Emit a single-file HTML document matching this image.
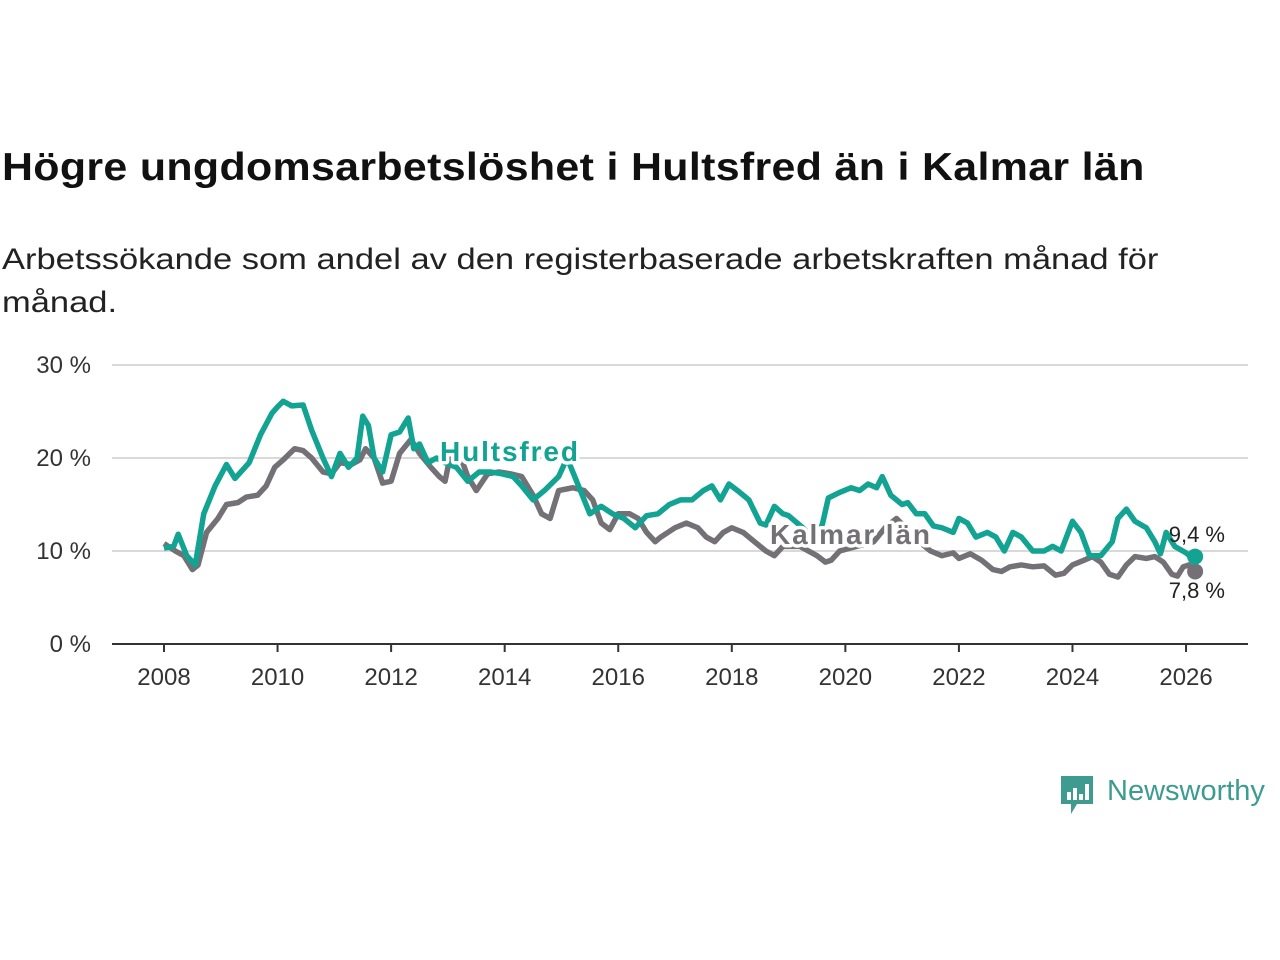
<!DOCTYPE html>
<html><head><meta charset="utf-8">
<style>
body{margin:0;width:1280px;height:960px;background:#fff;overflow:hidden;font-family:"Liberation Sans",sans-serif;}
#title{position:absolute;left:2px;top:146px;font-size:39px;font-weight:bold;color:#111;letter-spacing:0.3px;margin:0;transform-origin:0 0;transform:scaleX(1.1);white-space:nowrap;}
#sub{position:absolute;left:2px;top:238px;font-size:30px;line-height:43px;color:#222;width:1200px;margin:0;transform-origin:0 0;transform:scaleX(1.15);white-space:nowrap;}
svg{position:absolute;left:0;top:0;}
</style></head>
<body>
<h1 id="title">Högre ungdomsarbetslöshet i Hultsfred än i Kalmar län</h1>
<p id="sub">Arbetssökande som andel av den registerbaserade arbetskraften månad för<br>månad.</p>
<svg id="chart" width="1280" height="960"></svg>
<script>
const yTicks=[0,10,20,30];
const xTicks=[2008,2010,2012,2014,2016,2018,2020,2022,2024,2026];
const hDates=[2008.0,2008.17,2008.25,2008.4,2008.55,2008.7,2008.9,2009.1,2009.25,2009.5,2009.7,2009.9,2010.0,2010.1,2010.25,2010.45,2010.6,2010.8,2010.95,2011.1,2011.25,2011.4,2011.5,2011.6,2011.7,2011.85,2012.0,2012.15,2012.3,2012.4,2012.5,2012.65,2012.8,2012.95,2013.15,2013.35,2013.55,2013.75,2013.95,2014.15,2014.3,2014.5,2014.7,2014.95,2015.1,2015.3,2015.5,2015.7,2015.9,2016.1,2016.3,2016.5,2016.7,2016.9,2017.1,2017.3,2017.5,2017.65,2017.8,2017.95,2018.1,2018.3,2018.5,2018.6,2018.75,2018.9,2019.0,2019.25,2019.5,2019.6,2019.7,2019.9,2020.1,2020.25,2020.4,2020.55,2020.65,2020.8,2021.0,2021.1,2021.25,2021.4,2021.55,2021.7,2021.9,2022.0,2022.15,2022.3,2022.5,2022.65,2022.8,2022.95,2023.1,2023.3,2023.5,2023.65,2023.8,2024.0,2024.15,2024.3,2024.5,2024.7,2024.8,2024.95,2025.1,2025.3,2025.45,2025.55,2025.65,2025.8,2026.0,2026.1,2026.16];
const hVals=[10.3,10.5,11.8,9.5,8.5,14,17,19.3,17.8,19.5,22.5,24.8,25.5,26.1,25.6,25.7,23,20,18,20.5,19,20,24.5,23.5,20,18.5,22.5,22.8,24.3,21,21.5,19.5,20,19.5,19,17.5,18.5,18.5,18.3,18,17,15.5,16.5,18,20,17,14,14.8,14,13.5,12.5,13.8,14,15,15.5,15.5,16.5,17,15.5,17.2,16.5,15.5,13,12.8,14.8,14,13.8,12.5,11,13,15.7,16.3,16.8,16.5,17.2,16.8,18,16,15,15.2,14,14,12.7,12.5,12,13.5,13,11.5,12,11.5,10,12,11.5,10,10,10.5,10,13.2,12,9.5,9.5,11,13.5,14.5,13.2,12.5,11,9.7,12,10.5,9.8,9.3,9.4];
const kDates=[2008.0,2008.2,2008.35,2008.5,2008.6,2008.75,2008.95,2009.1,2009.3,2009.45,2009.65,2009.8,2009.95,2010.1,2010.3,2010.45,2010.6,2010.8,2010.95,2011.1,2011.3,2011.45,2011.55,2011.7,2011.85,2012.0,2012.15,2012.35,2012.5,2012.7,2012.85,2012.95,2013.05,2013.2,2013.35,2013.5,2013.7,2013.9,2014.1,2014.3,2014.5,2014.65,2014.8,2014.95,2015.2,2015.4,2015.55,2015.7,2015.85,2016.0,2016.2,2016.35,2016.5,2016.65,2016.75,2017.0,2017.2,2017.4,2017.55,2017.7,2017.85,2018.0,2018.2,2018.4,2018.6,2018.75,2018.9,2019.2,2019.5,2019.65,2019.75,2019.9,2020.2,2020.5,2020.7,2020.9,2021.3,2021.5,2021.7,2021.9,2022.0,2022.2,2022.4,2022.6,2022.75,2022.9,2023.1,2023.3,2023.5,2023.7,2023.85,2024.0,2024.2,2024.35,2024.5,2024.65,2024.8,2024.95,2025.1,2025.3,2025.45,2025.6,2025.75,2025.85,2025.95,2026.05,2026.16];
const kVals=[10.8,10,9.5,8,8.5,12,13.5,15,15.2,15.8,16,17,19,19.8,21,20.8,20,18.5,18.3,19.5,19.3,19.8,21,20,17.3,17.5,20.5,22,20.5,19,18,17.5,20.5,20.5,18,16.5,18.3,18.5,18.3,18,16,14,13.5,16.5,16.8,16.5,15.5,13,12.3,14,14,13.5,12,11,11.5,12.5,13,12.5,11.5,11,12,12.5,12,11,10,9.5,10.5,10.5,9.5,8.8,9,10,10.5,11,12.5,13.5,11,10,9.5,9.8,9.2,9.7,9,8,7.8,8.3,8.5,8.3,8.4,7.4,7.6,8.5,9,9.4,8.8,7.5,7.2,8.5,9.4,9.2,9.4,8.8,7.5,7.3,8.3,8.5,7.8];

const NS="http://www.w3.org/2000/svg";
const svg=document.getElementById('chart');
const L=112,R=1248;
const x=t=>164+(t-2008)*56.78;
const y=v=>644-v*9.3;
function mk(tag,attrs,parent){const e=document.createElementNS(NS,tag);for(const k in attrs)e.setAttribute(k,attrs[k]);(parent||svg).appendChild(e);return e;}
yTicks.forEach(v=>{
  if(v>0){const g=mk('line',{x1:L,x2:R,y1:y(v),y2:y(v),stroke:'#d9d9d9','stroke-width':2});
  
  }
  const t=mk('text',{x:91,y:y(v)+8,'text-anchor':'end','font-size':24,fill:'#333','font-family':'Liberation Sans, sans-serif'});
  t.textContent=v+' %';
  
  
});
const ax=mk('line',{x1:L,x2:R,y1:y(0),y2:y(0),stroke:'#333','stroke-width':2});


xTicks.forEach(t=>{
  const tk=mk('line',{x1:x(t),x2:x(t),y1:y(0),y2:y(0)+8,stroke:'#333','stroke-width':2});
  
  
  const l=mk('text',{x:x(t),y:685,'text-anchor':'middle','font-size':24,fill:'#333','font-family':'Liberation Sans, sans-serif'});
  l.textContent=t;
  
  
});
function line(ds,vs,col,name){
  const p=mk('polyline',{points:ds.map((d,i)=>x(d)+','+y(vs[i])).join(' '),fill:'none',stroke:col,'stroke-width':5.5,'stroke-linejoin':'round'});
  
  
  const c=mk('circle',{cx:x(ds[ds.length-1]),cy:y(vs[vs.length-1]),r:8,fill:col});
  
  
}
const G='#737176',T='#12a393';
line(kDates,kVals,G,'kalmar-line');
line(hDates,hVals,T,'hultsfred-line');
function lab(txt,xx,yy,col,name,size,bold,anchor){
  const t=mk('text',{x:xx,y:yy,'font-size':size,'font-weight':bold?'bold':'normal',fill:col,stroke:'#fff','stroke-width':bold?7:0,'paint-order':'stroke','stroke-linejoin':'round','text-anchor':anchor||'start','font-family':'Liberation Sans, sans-serif','textLength':bold?(name==='hultsfred-label'?138:160):null});
  if(!bold)t.removeAttribute('textLength');
  t.textContent=txt;
  
  
}
lab('Hultsfred',440,461,T,'hultsfred-label',28,true);
lab('Kalmar län',770,544,G,'kalmar-label',28,true);
lab('9,4 %',1225,542,'#222','hultsfred-end-value',22,false,'end');
lab('7,8 %',1225,598,'#222','kalmar-end-value',22,false,'end');
</script>
<div style="position:absolute;left:1059px;top:774px;">
<svg width="40" height="44" style="position:static"><path d="M2 2h32v28H18l-6 10v-10H2z" fill="#3d9b8f"/><rect x="8" y="18" width="4" height="8" fill="#fff"/><rect x="14" y="14" width="4" height="12" fill="#fff"/><rect x="20" y="20" width="4" height="6" fill="#fff"/><rect x="26" y="10" width="4" height="16" fill="#fff"/></svg>
<span style="position:absolute;left:48px;top:1px;font-size:29px;color:#3d9b8f;white-space:nowrap;display:inline-block;transform-origin:0 0;transform:scaleX(1.0);">Newsworthy</span>
</div>
</body></html>
